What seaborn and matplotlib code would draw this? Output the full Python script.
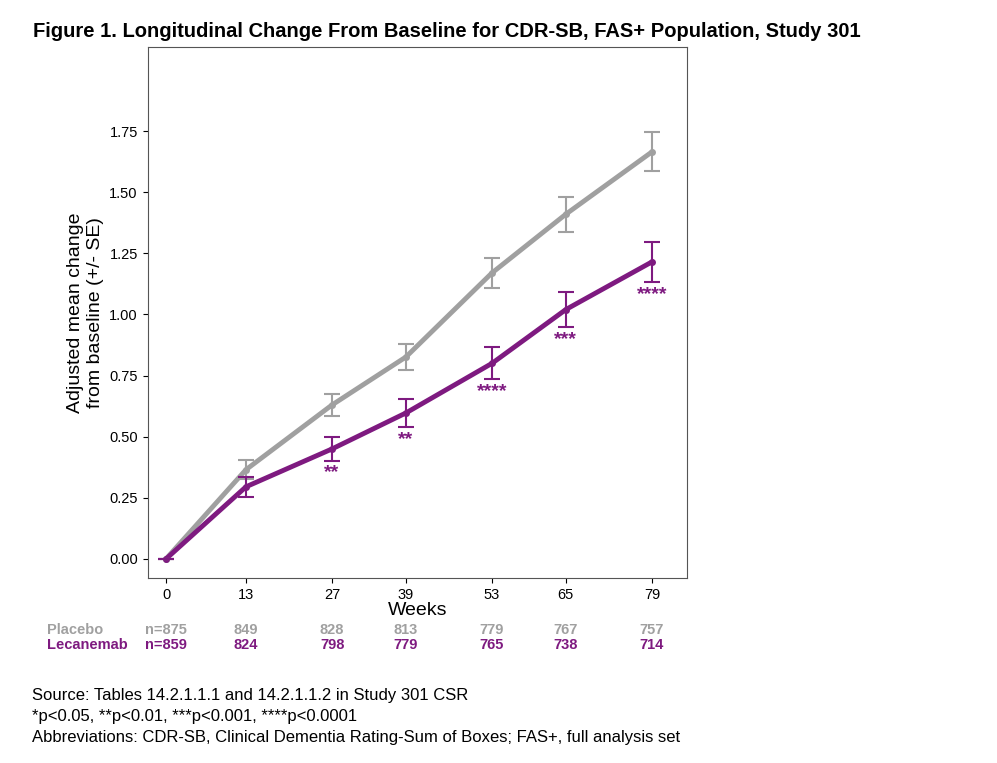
import matplotlib
matplotlib.use("Agg")
import matplotlib.pyplot as plt
import seaborn as sns
import pandas as pd

weeks = [0, 13, 27, 39, 53, 65, 79]
placebo = [0.0, 0.365, 0.63, 0.826, 1.17, 1.41, 1.665]
placebo_se = [0.0, 0.04, 0.045, 0.052, 0.062, 0.072, 0.08]
lecanemab = [0.0, 0.295, 0.45, 0.597, 0.80, 1.02, 1.215]
lecanemab_se = [0.0, 0.04, 0.048, 0.057, 0.065, 0.072, 0.083]
stars = ["", "", "**", "**", "****", "***", "****"]
n_placebo = ["n=875", "849", "828", "813", "779", "767", "757"]
n_lecanemab = ["n=859", "824", "798", "779", "765", "738", "714"]

grey = "#a0a0a0"
purple = "#7e1a80"

plt.rcParams["font.family"] = "Liberation Sans"

df = pd.DataFrame({
    "Weeks": weeks * 2,
    "value": placebo + lecanemab,
    "group": ["Placebo"] * 7 + ["Lecanemab"] * 7,
})

fig = plt.figure(figsize=(9.97, 7.63), dpi=100)
ax = fig.add_axes([0.148, 0.2425, 0.541, 0.6955])

sns.lineplot(data=df, x="Weeks", y="value", hue="group", palette={"Placebo": grey, "Lecanemab": purple},
             linewidth=3.5, marker="o", markersize=5, markeredgewidth=0, legend=False, ax=ax)
ax.errorbar(weeks, placebo, yerr=placebo_se, fmt="none", ecolor=grey, elinewidth=1.5, capsize=6, capthick=1.5)
ax.errorbar(weeks, lecanemab, yerr=lecanemab_se, fmt="none", ecolor=purple, elinewidth=1.5, capsize=6, capthick=1.5)

for w, v, s, st in zip(weeks, lecanemab, lecanemab_se, stars):
    if st:
        ax.text(w, v - s - 0.015, st, color=purple, ha="center", va="top", fontsize=14, fontweight="bold")

ax.set_xlim(-3, 84.7)
ax.set_ylim(-0.078, 2.093)
ax.set_xticks(weeks)
ax.set_yticks([0, 0.25, 0.5, 0.75, 1.0, 1.25, 1.5, 1.75])
ax.set_yticklabels([f"{t:.2f}" for t in ax.get_yticks()])
ax.tick_params(labelsize=10.5)
ax.set_xlabel("Weeks", fontsize=14, labelpad=0)
ax.set_ylabel("Adjusted mean change\nfrom baseline (+/- SE)", fontsize=14)
for sp in ax.spines.values():
    sp.set_color("#555555")
    sp.set_linewidth(0.8)

fig.text(0.033, 0.952, "Figure 1. Longitudinal Change From Baseline for CDR-SB, FAS+ Population, Study 301",
         fontsize=14.5, fontweight="bold")
fig.text(0.047, 0.169, "Placebo", color=grey, fontsize=10.5, fontweight="bold")
fig.text(0.047, 0.150, "Lecanemab", color=purple, fontsize=10.5, fontweight="bold")
for w, a, b in zip(weeks, n_placebo, n_lecanemab):
    xf = ax.transData.transform((w, 0))[0] / fig.bbox.width
    fig.text(xf, 0.169, a, color=grey, fontsize=10.5, fontweight="bold", ha="center")
    fig.text(xf, 0.150, b, color=purple, fontsize=10.5, fontweight="bold", ha="center")

fig.text(0.032, 0.082, "Source: Tables 14.2.1.1.1 and 14.2.1.1.2 in Study 301 CSR", fontsize=12)
fig.text(0.032, 0.055, "*p<0.05, **p<0.01, ***p<0.001, ****p<0.0001", fontsize=12)
fig.text(0.032, 0.027, "Abbreviations: CDR-SB, Clinical Dementia Rating-Sum of Boxes; FAS+, full analysis set", fontsize=12)

fig.savefig("out.png", dpi=100)
